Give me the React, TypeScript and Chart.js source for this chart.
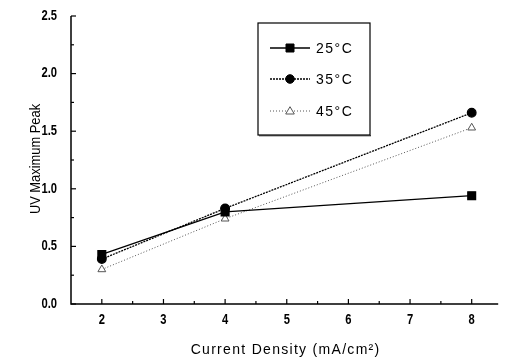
import React, { useEffect, useRef } from "react";
import { Chart, registerables } from "chart.js";

Chart.register(...registerables);

const xValues = [2, 4, 8];
const series25 = [0.43, 0.8, 0.94];
const series35 = [0.39, 0.83, 1.66];
const series45 = [0.3, 0.74, 1.53];
const seriesLabels = ["25\u00B0C", "35\u00B0C", "45\u00B0C"];
const xTicks = [2, 3, 4, 5, 6, 7, 8];
const yTicks = [0, 0.5, 1.0, 1.5, 2.0, 2.5];
const xTitle = "Current Density (mA/cm\u00B2)";
const yTitle = "UV Maximum Peak";

const FONT = "'Liberation Sans', Arial, sans-serif";

const axesPlugin = {
  id: "axesPlugin",
  afterDraw(chart: any) {
    const { ctx, chartArea, scales } = chart;
    const xs = scales.x;
    const ys = scales.y;
    ctx.save();
    ctx.strokeStyle = "#000";
    ctx.lineWidth = 1.5;
    ctx.beginPath();
    ctx.moveTo(chartArea.left, chartArea.top);
    ctx.lineTo(chartArea.left, chartArea.bottom);
    ctx.lineTo(chartArea.right, chartArea.bottom);
    ctx.stroke();
    ctx.lineWidth = 1.2;
    for (let v = 2; v <= 8.001; v += 0.5) {
      const px = xs.getPixelForValue(v);
      const len = Math.abs(v - Math.round(v)) < 0.01 ? 5 : 3;
      ctx.beginPath();
      ctx.moveTo(px, chartArea.bottom);
      ctx.lineTo(px, chartArea.bottom - len);
      ctx.stroke();
    }
    for (let v = 0; v <= 2.501; v += 0.25) {
      const py = ys.getPixelForValue(v);
      const major = Math.abs(v * 2 - Math.round(v * 2)) < 0.01;
      const len = major ? 5 : 3;
      ctx.beginPath();
      ctx.moveTo(chartArea.left, py);
      ctx.lineTo(chartArea.left + len, py);
      ctx.stroke();
    }
    // tick labels (tall, narrow digits)
    ctx.fillStyle = "#000";
    ctx.font = `bold 14px ${FONT}`;
    ctx.textBaseline = "middle";
    xTicks.forEach((v) => {
      const px = xs.getPixelForValue(v);
      ctx.save();
      ctx.translate(px, 320);
      ctx.scale(0.8, 1);
      ctx.textAlign = "center";
      ctx.fillText(String(v), 0, 0);
      ctx.restore();
    });
    yTicks.forEach((v) => {
      const py = ys.getPixelForValue(v);
      ctx.save();
      ctx.translate(57, py);
      ctx.scale(0.8, 1);
      ctx.textAlign = "right";
      ctx.fillText(v.toFixed(1), 0, 0);
      ctx.restore();
    });
    // axis titles
    ctx.font = `14px ${FONT}`;
    (ctx as any).letterSpacing = "1.3px";
    ctx.textAlign = "center";
    ctx.textBaseline = "alphabetic";
    ctx.fillText(xTitle, (chartArea.left + chartArea.right) / 2 + 1, 354);
    (ctx as any).letterSpacing = "0px";
    ctx.font = `14px ${FONT}`;
    ctx.translate(40, (chartArea.top + chartArea.bottom) / 2 - 1);
    ctx.rotate(-Math.PI / 2);
    ctx.scale(0.92, 1);
    ctx.fillText(yTitle, 0, 0);
    ctx.restore();
  },
};

const legendPlugin = {
  id: "legendBox",
  afterDraw(chart: any) {
    const { ctx } = chart;
    ctx.save();
    const bx = 258, by = 23, bw = 112, bh = 112;
    ctx.strokeStyle = "#000";
    ctx.lineWidth = 1.2;
    ctx.strokeRect(bx, by, bw, bh);
    ctx.fillStyle = "#333";
    ctx.fillRect(bx + 1, by + bh, bw, 1.3);
    const rows = [48, 79, 111];
    chart.data.datasets.forEach((ds: any, i: number) => {
      const y = rows[i];
      ctx.strokeStyle = ds.borderColor;
      ctx.lineWidth = ds.borderWidth;
      ctx.setLineDash(ds.borderDash || []);
      ctx.beginPath();
      ctx.moveTo(270, y);
      ctx.lineTo(310, y);
      ctx.stroke();
      ctx.setLineDash([]);
      const mx = 290;
      const r = 4.3;
      ctx.fillStyle = ds.pointBackgroundColor;
      ctx.strokeStyle = ds.pointBorderColor;
      ctx.lineWidth = 1;
      ctx.beginPath();
      if (ds.pointStyle === "rect") {
        ctx.rect(mx - 4, y - 4, 8, 8);
      } else if (ds.pointStyle === "circle") {
        ctx.arc(mx, y, r, 0, Math.PI * 2);
      } else {
        ctx.moveTo(mx, y - r);
        ctx.lineTo(mx + r, y + r * 0.7);
        ctx.lineTo(mx - r, y + r * 0.7);
        ctx.closePath();
      }
      ctx.fill();
      ctx.stroke();
      ctx.fillStyle = "#000";
      ctx.font = `14px ${FONT}`;
      (ctx as any).letterSpacing = "1.5px";
      ctx.textBaseline = "middle";
      ctx.textAlign = "left";
      ctx.fillText(ds.label, 316, y + 1);
    });
    ctx.restore();
  },
};

export default function App() {
  const ref = useRef<HTMLCanvasElement | null>(null);
  useEffect(() => {
    document.body.style.margin = "0";
    const mk = (ys: number[]) => xValues.map((x, i) => ({ x, y: ys[i] }));
    const chart = new Chart(ref.current as HTMLCanvasElement, {
      type: "scatter",
      data: {
        datasets: [
          {
            label: seriesLabels[0],
            data: mk(series25),
            showLine: true,
            borderColor: "#000",
            borderWidth: 1.3,
            pointStyle: "rect",
            pointRadius: 5.5,
            pointBackgroundColor: "#000",
            pointBorderColor: "#000",
          },
          {
            label: seriesLabels[1],
            data: mk(series35),
            showLine: true,
            borderColor: "#000",
            borderWidth: 1.3,
            borderDash: [2, 1],
            pointStyle: "circle",
            pointRadius: 4.3,
            pointBackgroundColor: "#000",
            pointBorderColor: "#000",
          },
          {
            label: seriesLabels[2],
            data: mk(series45),
            showLine: true,
            borderColor: "#555",
            borderWidth: 1,
            borderDash: [1, 2],
            pointStyle: "triangle",
            pointRadius: 4.5,
            pointBackgroundColor: "#fff",
            pointBorderColor: "#555",
          } as any,
        ],
      },
      options: {
        animation: false,
        responsive: false,
        maintainAspectRatio: false,
        layout: { padding: { top: 16, right: 0, left: 0, bottom: 0 } },
        plugins: { legend: { display: false }, tooltip: { enabled: false } },
        scales: {
          x: {
            type: "linear",
            min: 1.5,
            max: 8.43,
            afterBuildTicks: (axis: any) => {
              axis.ticks = xTicks.map((v) => ({ value: v }));
            },
            afterFit: (axis: any) => {
              axis.height = 54;
            },
            grid: { display: false, drawTicks: false },
            border: { display: false },
            ticks: { display: false },
          },
          y: {
            type: "linear",
            min: 0,
            max: 2.5,
            afterBuildTicks: (axis: any) => {
              axis.ticks = yTicks.map((v) => ({ value: v }));
            },
            afterFit: (axis: any) => {
              axis.width = 71;
            },
            grid: { display: false, drawTicks: false },
            border: { display: false },
            ticks: { display: false },
          },
        },
      },
      plugins: [axesPlugin, legendPlugin],
    } as any);
    return () => chart.destroy();
  }, []);
  return (
    <div style={{ width: 505, height: 358 }}>
      <canvas ref={ref} width={505} height={358} style={{ display: "block" }} />
    </div>
  );
}
